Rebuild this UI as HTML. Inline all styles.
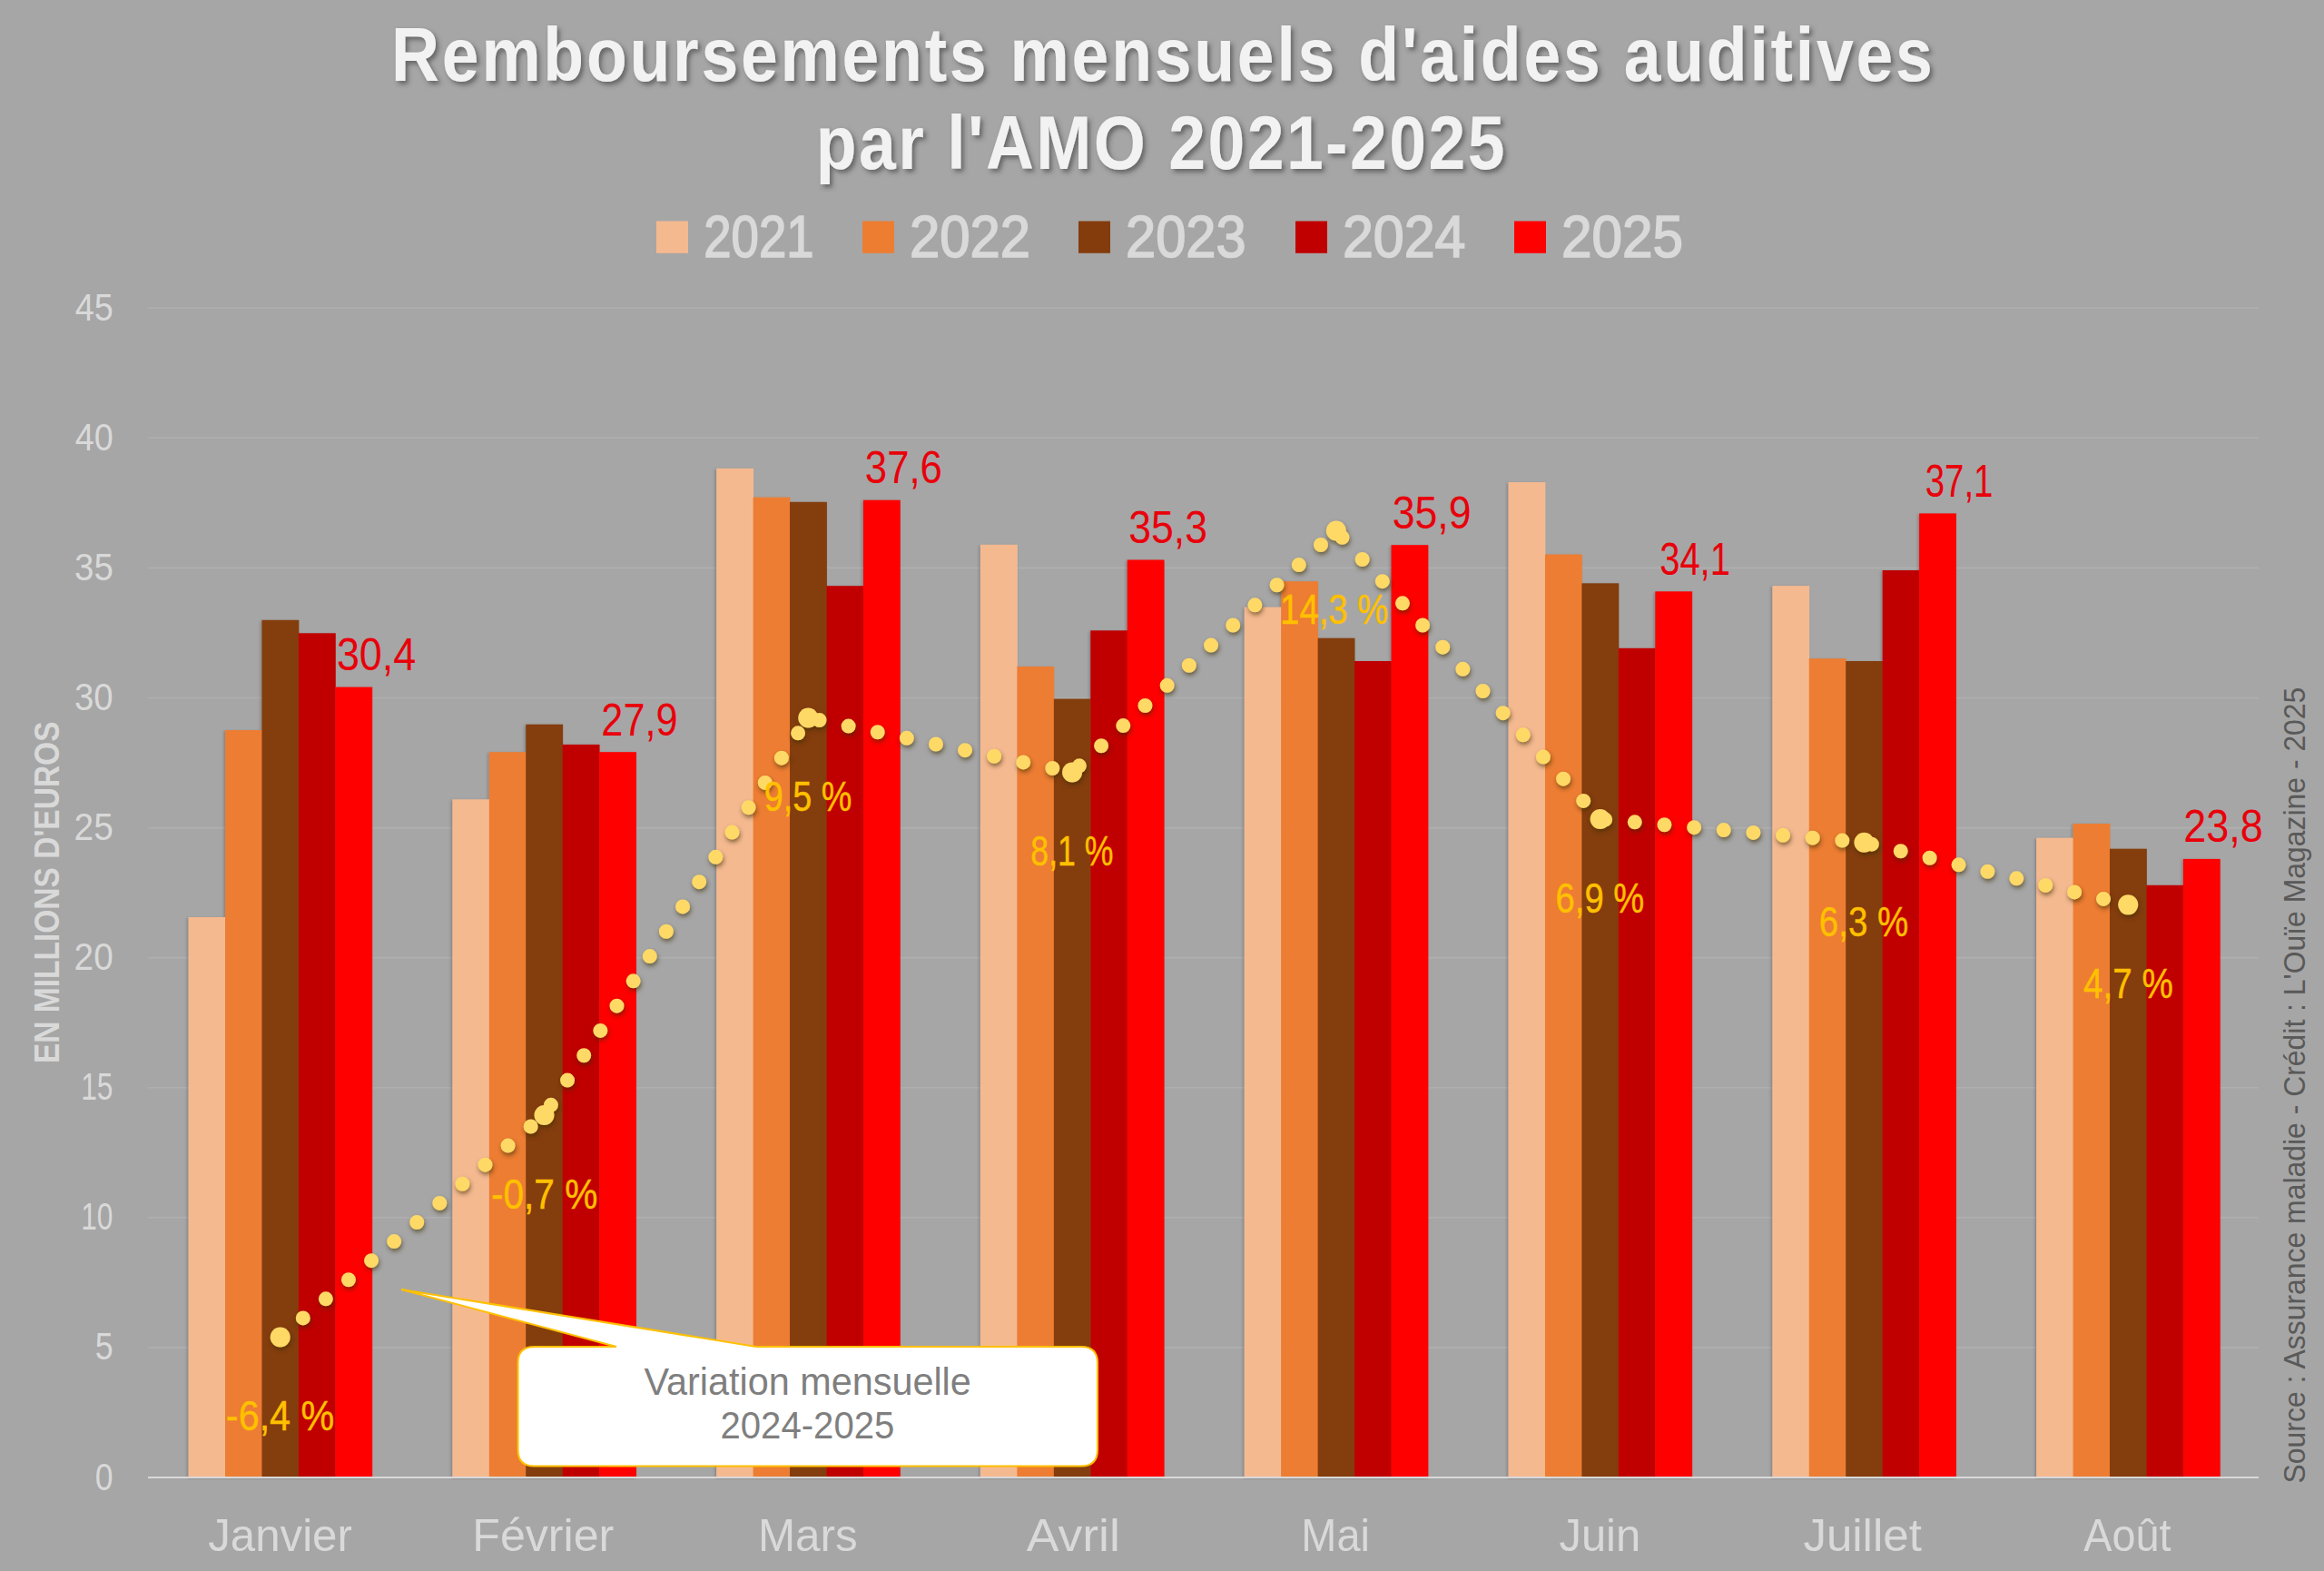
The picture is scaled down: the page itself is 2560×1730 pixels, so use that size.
<!DOCTYPE html><html><head><meta charset="utf-8"><style>
html,body{margin:0;padding:0;background:#A6A6A6;overflow:hidden;}
svg{display:block;}
text{font-family:"Liberation Sans", sans-serif;}
</style></head><body>
<svg width="2560" height="1730" viewBox="0 0 2560 1730">
<defs>
<filter id="tsh" x="-5%" y="-20%" width="110%" height="150%">
<feDropShadow dx="3" dy="3.5" stdDeviation="2.5" flood-color="#3c3c3c" flood-opacity="0.6"/>
</filter>
<filter id="dsh" x="-5%" y="-5%" width="110%" height="110%">
<feDropShadow dx="1" dy="3" stdDeviation="2.5" flood-color="#3a2a00" flood-opacity="0.6"/>
</filter>
<filter id="bsh" x="-5%" y="-5%" width="110%" height="110%">
<feDropShadow dx="-1.5" dy="1" stdDeviation="1.5" flood-color="#000" flood-opacity="0.22"/>
</filter>
</defs>
<rect width="2560" height="1730" fill="#A6A6A6"/>

<line x1="163" y1="1483.9" x2="2488" y2="1483.9" stroke="#AFAFAF" stroke-width="1.6"/>
<line x1="163" y1="1340.8" x2="2488" y2="1340.8" stroke="#AFAFAF" stroke-width="1.6"/>
<line x1="163" y1="1197.7" x2="2488" y2="1197.7" stroke="#AFAFAF" stroke-width="1.6"/>
<line x1="163" y1="1054.6" x2="2488" y2="1054.6" stroke="#AFAFAF" stroke-width="1.6"/>
<line x1="163" y1="911.6" x2="2488" y2="911.6" stroke="#AFAFAF" stroke-width="1.6"/>
<line x1="163" y1="768.5" x2="2488" y2="768.5" stroke="#AFAFAF" stroke-width="1.6"/>
<line x1="163" y1="625.4" x2="2488" y2="625.4" stroke="#AFAFAF" stroke-width="1.6"/>
<line x1="163" y1="482.3" x2="2488" y2="482.3" stroke="#AFAFAF" stroke-width="1.6"/>
<line x1="163" y1="339.2" x2="2488" y2="339.2" stroke="#AFAFAF" stroke-width="1.6"/>
<g filter="url(#bsh)">
<rect x="207.60" y="1010.0" width="40.84" height="617.0" fill="#F5B990"/>
<rect x="248.04" y="804.0" width="40.84" height="823.0" fill="#ED7D31"/>
<rect x="288.48" y="682.8" width="40.84" height="944.2" fill="#843C0C"/>
<rect x="328.92" y="697.3" width="40.84" height="929.7" fill="#C00000"/>
<rect x="369.36" y="756.6" width="40.84" height="870.4" fill="#FF0000"/>
<rect x="498.39" y="880.3" width="40.84" height="746.7" fill="#F5B990"/>
<rect x="538.83" y="828.2" width="40.84" height="798.8" fill="#ED7D31"/>
<rect x="579.27" y="797.7" width="40.84" height="829.3" fill="#843C0C"/>
<rect x="619.71" y="819.9" width="40.84" height="807.1" fill="#C00000"/>
<rect x="660.15" y="828.2" width="40.84" height="798.8" fill="#FF0000"/>
<rect x="789.18" y="515.8" width="40.84" height="1111.2" fill="#F5B990"/>
<rect x="829.62" y="547.6" width="40.84" height="1079.4" fill="#ED7D31"/>
<rect x="870.06" y="552.8" width="40.84" height="1074.2" fill="#843C0C"/>
<rect x="910.50" y="645.2" width="40.84" height="981.8" fill="#C00000"/>
<rect x="950.94" y="550.7" width="40.84" height="1076.3" fill="#FF0000"/>
<rect x="1079.97" y="599.8" width="40.84" height="1027.2" fill="#F5B990"/>
<rect x="1120.41" y="734.0" width="40.84" height="893.0" fill="#ED7D31"/>
<rect x="1160.85" y="769.6" width="40.84" height="857.4" fill="#843C0C"/>
<rect x="1201.29" y="694.3" width="40.84" height="932.7" fill="#C00000"/>
<rect x="1241.73" y="616.5" width="40.84" height="1010.5" fill="#FF0000"/>
<rect x="1370.76" y="668.6" width="40.84" height="958.4" fill="#F5B990"/>
<rect x="1411.20" y="640.2" width="40.84" height="986.8" fill="#ED7D31"/>
<rect x="1451.64" y="702.7" width="40.84" height="924.3" fill="#843C0C"/>
<rect x="1492.08" y="728.0" width="40.84" height="899.0" fill="#C00000"/>
<rect x="1532.52" y="600.2" width="40.84" height="1026.8" fill="#FF0000"/>
<rect x="1661.55" y="531.0" width="40.84" height="1096.0" fill="#F5B990"/>
<rect x="1701.99" y="610.5" width="40.84" height="1016.5" fill="#ED7D31"/>
<rect x="1742.43" y="642.3" width="40.84" height="984.7" fill="#843C0C"/>
<rect x="1782.87" y="713.8" width="40.84" height="913.2" fill="#C00000"/>
<rect x="1823.31" y="651.3" width="40.84" height="975.7" fill="#FF0000"/>
<rect x="1952.34" y="645.1" width="40.84" height="981.9" fill="#F5B990"/>
<rect x="1992.78" y="725.2" width="40.84" height="901.8" fill="#ED7D31"/>
<rect x="2033.22" y="728.0" width="40.84" height="899.0" fill="#843C0C"/>
<rect x="2073.66" y="628.0" width="40.84" height="999.0" fill="#C00000"/>
<rect x="2114.10" y="565.4" width="40.84" height="1061.6" fill="#FF0000"/>
<rect x="2243.13" y="922.7" width="40.84" height="704.3" fill="#F5B990"/>
<rect x="2283.57" y="907.0" width="40.84" height="720.0" fill="#ED7D31"/>
<rect x="2324.01" y="934.7" width="40.84" height="692.3" fill="#843C0C"/>
<rect x="2364.45" y="974.8" width="40.84" height="652.2" fill="#C00000"/>
<rect x="2404.89" y="945.9" width="40.84" height="681.1" fill="#FF0000"/>
</g>
<line x1="163" y1="1627.0" x2="2488" y2="1627.0" stroke="#D9D9D9" stroke-width="2.2"/>
<g fill="#D9D9D9">
<text x="104.81" y="1640.50" font-size="42.30" textLength="19.78" lengthAdjust="spacingAndGlyphs" >0</text>
<text x="104.76" y="1497.41" font-size="42.30" textLength="19.94" lengthAdjust="spacingAndGlyphs" >5</text>
<text x="89.19" y="1354.32" font-size="42.30" textLength="35.25" lengthAdjust="spacingAndGlyphs" >10</text>
<text x="89.18" y="1211.23" font-size="42.30" textLength="35.36" lengthAdjust="spacingAndGlyphs" >15</text>
<text x="81.55" y="1068.14" font-size="42.30" textLength="43.17" lengthAdjust="spacingAndGlyphs" >20</text>
<text x="81.54" y="925.06" font-size="42.30" textLength="43.29" lengthAdjust="spacingAndGlyphs" >25</text>
<text x="82.04" y="781.97" font-size="42.30" textLength="42.66" lengthAdjust="spacingAndGlyphs" >30</text>
<text x="82.04" y="638.88" font-size="42.30" textLength="42.78" lengthAdjust="spacingAndGlyphs" >35</text>
<text x="82.63" y="495.79" font-size="42.30" textLength="42.04" lengthAdjust="spacingAndGlyphs" >40</text>
<text x="82.63" y="352.70" font-size="42.30" textLength="42.16" lengthAdjust="spacingAndGlyphs" >45</text>
</g>
<g fill="#D9D9D9">
<text x="229.23" y="1707.60" font-size="50.20" textLength="158.59" lengthAdjust="spacingAndGlyphs" >Janvier</text>
<text x="520.29" y="1707.60" font-size="50.20" textLength="155.94" lengthAdjust="spacingAndGlyphs" >Février</text>
<text x="834.95" y="1707.60" font-size="50.20" textLength="109.74" lengthAdjust="spacingAndGlyphs" >Mars</text>
<text x="1130.80" y="1707.60" font-size="50.20" textLength="103.08" lengthAdjust="spacingAndGlyphs" >Avril</text>
<text x="1433.35" y="1707.60" font-size="50.20" textLength="75.61" lengthAdjust="spacingAndGlyphs" >Mai</text>
<text x="1717.44" y="1707.60" font-size="50.20" textLength="89.74" lengthAdjust="spacingAndGlyphs" >Juin</text>
<text x="1986.40" y="1707.60" font-size="50.20" textLength="130.47" lengthAdjust="spacingAndGlyphs" >Juillet</text>
<text x="2295.31" y="1707.60" font-size="50.20" textLength="96.23" lengthAdjust="spacingAndGlyphs" >Août</text>
</g>
<g fill="#E8000B">
<text x="370.89" y="738.00" font-size="50.00" textLength="87.43" lengthAdjust="spacingAndGlyphs" >30,4</text>
<text x="662.32" y="809.60" font-size="50.00" textLength="84.23" lengthAdjust="spacingAndGlyphs" >27,9</text>
<text x="952.83" y="532.10" font-size="50.00" textLength="85.09" lengthAdjust="spacingAndGlyphs" >37,6</text>
<text x="1243.30" y="597.90" font-size="50.00" textLength="86.76" lengthAdjust="spacingAndGlyphs" >35,3</text>
<text x="1533.70" y="581.60" font-size="50.00" textLength="86.92" lengthAdjust="spacingAndGlyphs" >35,9</text>
<text x="1828.18" y="632.70" font-size="50.00" textLength="77.77" lengthAdjust="spacingAndGlyphs" >34,1</text>
<text x="2120.64" y="546.80" font-size="50.00" textLength="74.84" lengthAdjust="spacingAndGlyphs" >37,1</text>
<text x="2405.34" y="927.30" font-size="50.00" textLength="87.52" lengthAdjust="spacingAndGlyphs" >23,8</text>
</g>
<g filter="url(#dsh)">
<path d="M308.70,1472.56 L599.49,1228.03 L890.28,790.45 L1181.07,850.51 L1471.86,584.53 L1762.65,901.99 L2053.44,927.73 L2344.23,996.37" fill="none" stroke="#FFD966" stroke-width="16" stroke-linecap="round" stroke-linejoin="round" stroke-dasharray="0 32.78"/>
<circle cx="308.70" cy="1472.56" r="11" fill="#FFD966"/>
<circle cx="599.49" cy="1228.03" r="11" fill="#FFD966"/>
<circle cx="890.28" cy="790.45" r="11" fill="#FFD966"/>
<circle cx="1181.07" cy="850.51" r="11" fill="#FFD966"/>
<circle cx="1471.86" cy="584.53" r="11" fill="#FFD966"/>
<circle cx="1762.65" cy="901.99" r="11" fill="#FFD966"/>
<circle cx="2053.44" cy="927.73" r="11" fill="#FFD966"/>
<circle cx="2344.23" cy="996.37" r="11" fill="#FFD966"/>
</g>
<g fill="#FFC000" stroke="#FFC000" stroke-width="0.45">
<text x="248.86" y="1575.36" font-size="47.00" textLength="119.51" lengthAdjust="spacingAndGlyphs" >-6,4 %</text>
<text x="540.89" y="1330.83" font-size="47.00" textLength="117.56" lengthAdjust="spacingAndGlyphs" >-0,7 %</text>
<text x="841.63" y="893.25" font-size="47.00" textLength="96.72" lengthAdjust="spacingAndGlyphs" >9,5 %</text>
<text x="1135.35" y="953.31" font-size="47.00" textLength="91.22" lengthAdjust="spacingAndGlyphs" >8,1 %</text>
<text x="1410.08" y="687.33" font-size="47.00" textLength="119.28" lengthAdjust="spacingAndGlyphs" >14,3 %</text>
<text x="1713.56" y="1004.79" font-size="47.00" textLength="97.60" lengthAdjust="spacingAndGlyphs" >6,9 %</text>
<text x="2003.85" y="1030.53" font-size="47.00" textLength="98.32" lengthAdjust="spacingAndGlyphs" >6,3 %</text>
<text x="2295.11" y="1099.17" font-size="47.00" textLength="98.76" lengthAdjust="spacingAndGlyphs" >4,7 %</text>
</g>
<path d="M588.5,1483 L679,1483 L442,1420 L833,1483 L1191,1483 Q1209,1483 1209,1501 L1209,1596.5 Q1209,1614.5 1191,1614.5 L588.5,1614.5 Q570.5,1614.5 570.5,1596.5 L570.5,1501 Q570.5,1483 588.5,1483 Z" fill="#FFFFFF" stroke="#FFC000" stroke-width="2" stroke-linejoin="miter"/>
<g fill="#7F7F7F">
<text x="709.42" y="1536.00" font-size="42.20" textLength="360.42" lengthAdjust="spacingAndGlyphs" >Variation mensuelle</text>
<text x="793.48" y="1583.70" font-size="42.20" textLength="191.90" lengthAdjust="spacingAndGlyphs" >2024-2025</text>
</g>
<g filter="url(#tsh)" fill="#F2F2F2">
<text transform="translate(431.10,89.30) scale(0.88,1)" x="0" y="0" font-size="83.3" font-weight="bold" letter-spacing="3.183">Remboursements mensuels d&#39;aides auditives</text>
<text transform="translate(898.87,185.70) scale(0.88,1)" x="0" y="0" font-size="83.3" font-weight="bold" letter-spacing="2.809">par l&#39;AMO 2021-2025</text>
</g>
<g fill="#D9D9D9" stroke="#D9D9D9" stroke-width="1.7">
<rect x="723" y="243.5" width="35" height="35.3" fill="#F5B990" stroke="none"/>
<text x="775.26" y="283.00" font-size="64.50" textLength="121.41" lengthAdjust="spacingAndGlyphs" >2021</text>
<rect x="950" y="243.5" width="35" height="35.3" fill="#ED7D31" stroke="none"/>
<text x="1001.99" y="283.00" font-size="64.50" textLength="133.01" lengthAdjust="spacingAndGlyphs" >2022</text>
<rect x="1188" y="243.5" width="35" height="35.3" fill="#843C0C" stroke="none"/>
<text x="1240.00" y="283.00" font-size="64.50" textLength="132.62" lengthAdjust="spacingAndGlyphs" >2023</text>
<rect x="1427" y="243.5" width="35" height="35.3" fill="#C00000" stroke="none"/>
<text x="1478.94" y="283.00" font-size="64.50" textLength="135.55" lengthAdjust="spacingAndGlyphs" >2024</text>
<rect x="1668" y="243.5" width="35" height="35.3" fill="#FF0000" stroke="none"/>
<text x="1719.97" y="283.00" font-size="64.50" textLength="134.17" lengthAdjust="spacingAndGlyphs" >2025</text>
</g>
<g transform="translate(64.9,1168.8) rotate(-90)" fill="#D9D9D9"><text x="-2.24" y="0.00" font-size="38.70" font-weight="bold" textLength="376.55" lengthAdjust="spacingAndGlyphs" >EN MILLIONS D&#39;EUROS</text></g>
<g transform="translate(2539,1632) rotate(-90)" fill="#595959"><text x="-1.45" y="0.00" font-size="33.00" textLength="876.79" lengthAdjust="spacingAndGlyphs" >Source : Assurance maladie - Crédit : L&#39;Ouïe Magazine - 2025</text></g>
</svg></body></html>
